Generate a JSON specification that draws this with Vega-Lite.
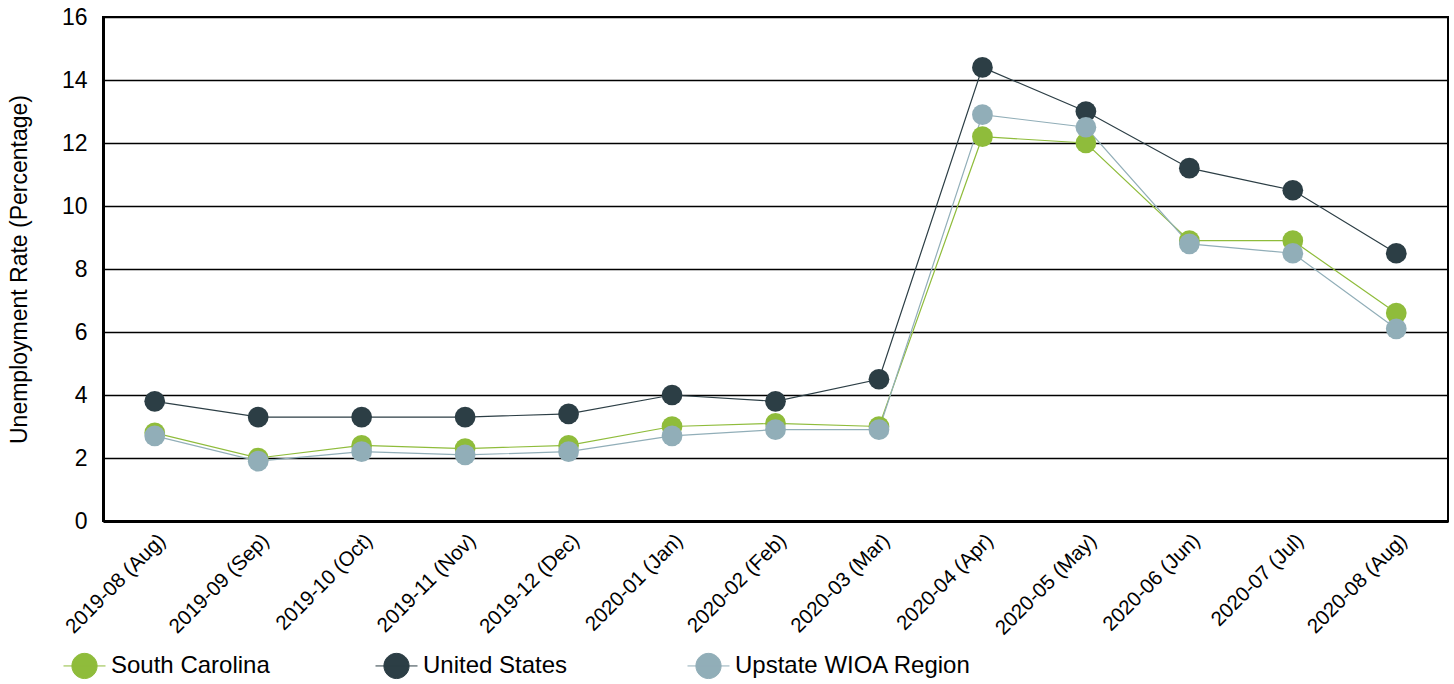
{
  "$schema": "https://vega.github.io/schema/vega-lite/v6.json",
  "width": 1345,
  "height": 504,
  "autosize": {"type": "none"},
  "padding": {"left": 103, "top": 17, "right": 6, "bottom": 163},
  "background": "white",
  "config": {
    "font": "Liberation Sans",
    "view": {"stroke": "black", "strokeWidth": 2}
  },
  "data": {
    "values": [
      {"month": "2019-08 (Aug)", "series": "South Carolina", "rate": 2.8},
      {"month": "2019-09 (Sep)", "series": "South Carolina", "rate": 2.0},
      {"month": "2019-10 (Oct)", "series": "South Carolina", "rate": 2.4},
      {"month": "2019-11 (Nov)", "series": "South Carolina", "rate": 2.3},
      {"month": "2019-12 (Dec)", "series": "South Carolina", "rate": 2.4},
      {"month": "2020-01 (Jan)", "series": "South Carolina", "rate": 3.0},
      {"month": "2020-02 (Feb)", "series": "South Carolina", "rate": 3.1},
      {"month": "2020-03 (Mar)", "series": "South Carolina", "rate": 3.0},
      {"month": "2020-04 (Apr)", "series": "South Carolina", "rate": 12.2},
      {"month": "2020-05 (May)", "series": "South Carolina", "rate": 12.0},
      {"month": "2020-06 (Jun)", "series": "South Carolina", "rate": 8.9},
      {"month": "2020-07 (Jul)", "series": "South Carolina", "rate": 8.9},
      {"month": "2020-08 (Aug)", "series": "South Carolina", "rate": 6.6},
      {"month": "2019-08 (Aug)", "series": "United States", "rate": 3.8},
      {"month": "2019-09 (Sep)", "series": "United States", "rate": 3.3},
      {"month": "2019-10 (Oct)", "series": "United States", "rate": 3.3},
      {"month": "2019-11 (Nov)", "series": "United States", "rate": 3.3},
      {"month": "2019-12 (Dec)", "series": "United States", "rate": 3.4},
      {"month": "2020-01 (Jan)", "series": "United States", "rate": 4.0},
      {"month": "2020-02 (Feb)", "series": "United States", "rate": 3.8},
      {"month": "2020-03 (Mar)", "series": "United States", "rate": 4.5},
      {"month": "2020-04 (Apr)", "series": "United States", "rate": 14.4},
      {"month": "2020-05 (May)", "series": "United States", "rate": 13.0},
      {"month": "2020-06 (Jun)", "series": "United States", "rate": 11.2},
      {"month": "2020-07 (Jul)", "series": "United States", "rate": 10.5},
      {"month": "2020-08 (Aug)", "series": "United States", "rate": 8.5},
      {"month": "2019-08 (Aug)", "series": "Upstate WIOA Region", "rate": 2.7},
      {"month": "2019-09 (Sep)", "series": "Upstate WIOA Region", "rate": 1.9},
      {"month": "2019-10 (Oct)", "series": "Upstate WIOA Region", "rate": 2.2},
      {"month": "2019-11 (Nov)", "series": "Upstate WIOA Region", "rate": 2.1},
      {"month": "2019-12 (Dec)", "series": "Upstate WIOA Region", "rate": 2.2},
      {"month": "2020-01 (Jan)", "series": "Upstate WIOA Region", "rate": 2.7},
      {"month": "2020-02 (Feb)", "series": "Upstate WIOA Region", "rate": 2.9},
      {"month": "2020-03 (Mar)", "series": "Upstate WIOA Region", "rate": 2.9},
      {"month": "2020-04 (Apr)", "series": "Upstate WIOA Region", "rate": 12.9},
      {"month": "2020-05 (May)", "series": "Upstate WIOA Region", "rate": 12.5},
      {"month": "2020-06 (Jun)", "series": "Upstate WIOA Region", "rate": 8.8},
      {"month": "2020-07 (Jul)", "series": "Upstate WIOA Region", "rate": 8.5},
      {"month": "2020-08 (Aug)", "series": "Upstate WIOA Region", "rate": 6.1}
    ]
  },
  "encoding": {
    "x": {
      "field": "month",
      "type": "ordinal",
      "sort": null,
      "scale": {"type": "point", "padding": 0.5},
      "axis": {
        "title": null,
        "labelAngle": -45,
        "labelFontSize": 20.5,
        "labelColor": "black",
        "labelPadding": 9,
        "ticks": false,
        "grid": false,
        "domainColor": "black",
        "domainWidth": 3
      }
    },
    "y": {
      "field": "rate",
      "type": "quantitative",
      "scale": {"domain": [0, 16], "nice": false},
      "axis": {
        "title": "Unemployment Rate (Percentage)",
        "titleFontSize": 23,
        "titleFontWeight": "normal",
        "titleColor": "black",
        "titlePadding": 30,
        "values": [0, 2, 4, 6, 8, 10, 12, 14, 16],
        "labelFontSize": 23,
        "labelColor": "black",
        "labelPadding": 16,
        "ticks": false,
        "grid": true,
        "gridColor": "black",
        "gridWidth": 1.5,
        "gridOpacity": 1,
        "domainColor": "black",
        "domainWidth": 3
      }
    },
    "color": {
      "field": "series",
      "type": "nominal",
      "scale": {
        "domain": ["South Carolina", "United States", "Upstate WIOA Region"],
        "range": ["#8fbc3b", "#2c3e45", "#91aeb8"]
      },
      "legend": {
        "title": null,
        "orient": "none",
        "legendX": -40,
        "legendY": 627,
        "direction": "horizontal",
        "columns": 3,
        "gridAlign": "all",
        "columnPadding": 25,
        "labelFontSize": 24,
        "labelLimit": 400,
        "labelColor": "black",
        "labelOffset": 5,
        "symbolType": "M-1,0H1M0.6,0A0.6,0.6,0,1,1,-0.6,0A0.6,0.6,0,1,1,0.6,0Z",
        "symbolSize": 1764,
        "symbolStrokeWidth": 1,
        "encode": {
          "symbols": {
            "update": {
              "fill": {"scale": "color", "field": "value"},
              "stroke": {"scale": "color", "field": "value"},
              "opacity": {"value": 1}
            }
          }
        }
      }
    }
  },
  "layer": [
    {"mark": {"type": "line", "strokeWidth": 1.2}, "encoding": {"detail": {"field": "series"}}},
    {"mark": {"type": "point", "filled": true, "size": 430, "opacity": 1}, "encoding": {"order": {"field": "series"}}}
  ]
}
